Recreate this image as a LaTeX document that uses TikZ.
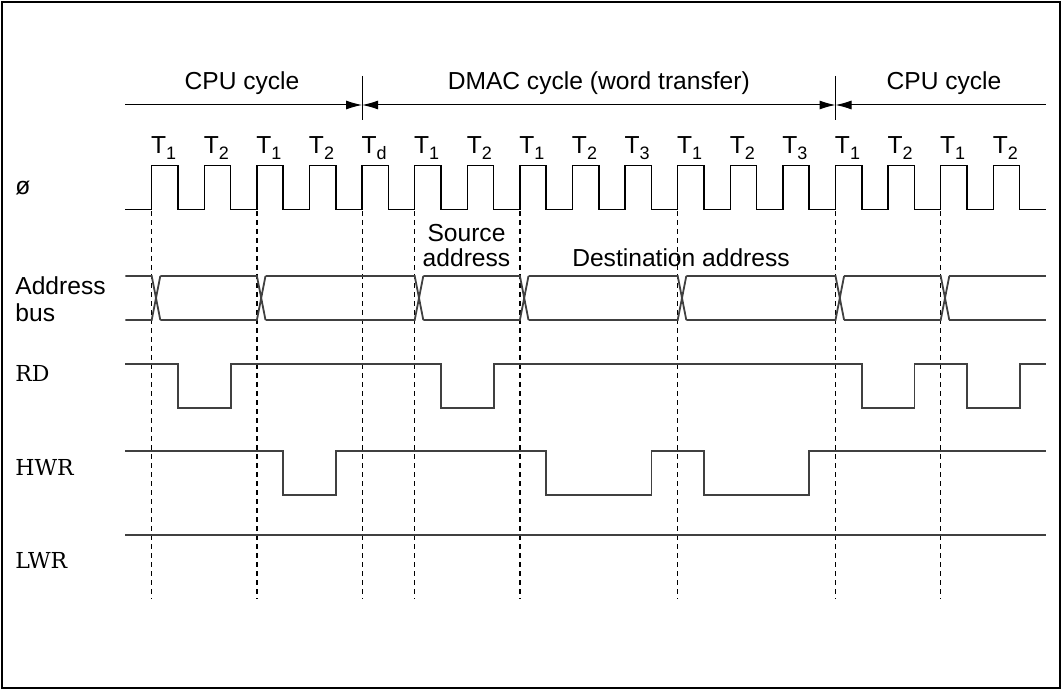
\documentclass[tikz,border=0pt]{standalone}
\usepackage{fontspec}
\setmainfont{Liberation Sans}
\newfontfamily\sigfont{DejaVu Serif}
\usetikzlibrary{arrows.meta}
\newcommand\Tsub[1]{T\raisebox{-2.9pt}{\fontsize{9}{10}\selectfont #1}}
\begin{document}
\begin{tikzpicture}[x=0.5pt, y=-0.5pt, font=\fontsize{12.3}{14}\selectfont,
  wave/.style={line width=0.9pt, black!75},
  clk/.style={line width=0.75pt},
  guide/.style={line width=0.6pt, dash pattern=on 2.5pt off 2pt},
  sig/.style={font=\sigfont\fontsize{11}{12}\selectfont, anchor=base west, inner sep=0pt},
  lbl/.style={anchor=base, inner sep=0pt},
  tip/.tip={Latex[length=8pt,width=4.5pt]}]
  \useasboundingbox (0,0) rectangle (1062,690);
  \draw[line width=0.9pt] (2,2) rectangle (1060,688);

  \draw[line width=0.5pt, -tip] (125.4,105) -- (362.1,105);
  \draw[line width=0.5pt, tip-tip] (362.1,105) -- (835.5,105);
  \draw[line width=0.5pt, tip-] (835.5,105) -- (1045.9,105);
  \draw[line width=0.5pt] (362.1,76) -- (362.1,120) (835.5,76) -- (835.5,120);
  \node[lbl] (cpuA) at (242,90) {CPU cycle};
  \node[lbl] (dmac) at (598.8,90) {DMAC cycle (word transfer)};
  \node[lbl] (cpuB) at (944,90) {CPU cycle};

  \foreach \t [count=\k from 0] in {1,2,1,2,d,1,2,1,2,3,1,2,3,1,2,1,2}
    \node[lbl] (t\k) at ({151.7+52.6*\k+12},153.5) {\Tsub{\t}};

  \foreach \k in {0,2,4,5,7,10,13,15}
    \draw[guide] ({151.7+52.6*\k},211) -- ++(0,388);

  \draw[clk] (125.4,209.7) -- (151.7,209.7)
    \foreach \k in {0,...,16}{ |- ({178+52.6*\k},165.7) |- ({204.3+52.6*\k},209.7)};

  \foreach \a/\b in {125.4/151.7, 160.3/256.9, 265.5/414.7, 423.3/519.9,
                     528.5/677.7, 686.3/835.5, 844.1/940.7}
    \draw[wave] (\a,276) -- (\b,276) -- ++(8.6,44) (\a,320) -- (\b,320) -- ++(8.6,-44);
  \draw[wave] (949.3,276) -- (1045.9,276) (949.3,320) -- (1045.9,320);

  \draw[wave] (125.4,364) \foreach \a/\b in {0/1,5/6,13/14,15/16}
    { -| ({178+52.6*\a},408) -| ({178+52.6*\b},364)} -- (1045.9,364);
  \draw[wave] (125.4,450.7) \foreach \a/\b in {2/3,7/9,10/12}
    { -| ({178+52.6*\a},494.7) -| ({178+52.6*\b},450.7)} -- (1045.9,450.7);
  \draw[wave] (125.4,535.3) -- (1045.9,535.3);

  \node[anchor=base west, inner sep=0pt] (phi) at (15,195) {ø};
  \node[anchor=base west, inner sep=0pt] (addr) at (15,294.3) {Address};
  \node[anchor=base west, inner sep=0pt] (bus) at (15,321.7) {bus};
  \node[sig] (rd) at (15,381.7) {RD};
  \node[sig] (hwr) at (15,475) {HWR};
  \node[sig] (lwr) at (15,568.3) {LWR};
  \node[lbl] (src) at (466.5,241.7) {Source};
  \node[lbl] (srcb) at (466.5,266.7) {address};
  \node[lbl] (dst) at (681,266.7) {Destination address};
\end{tikzpicture}
\end{document}
